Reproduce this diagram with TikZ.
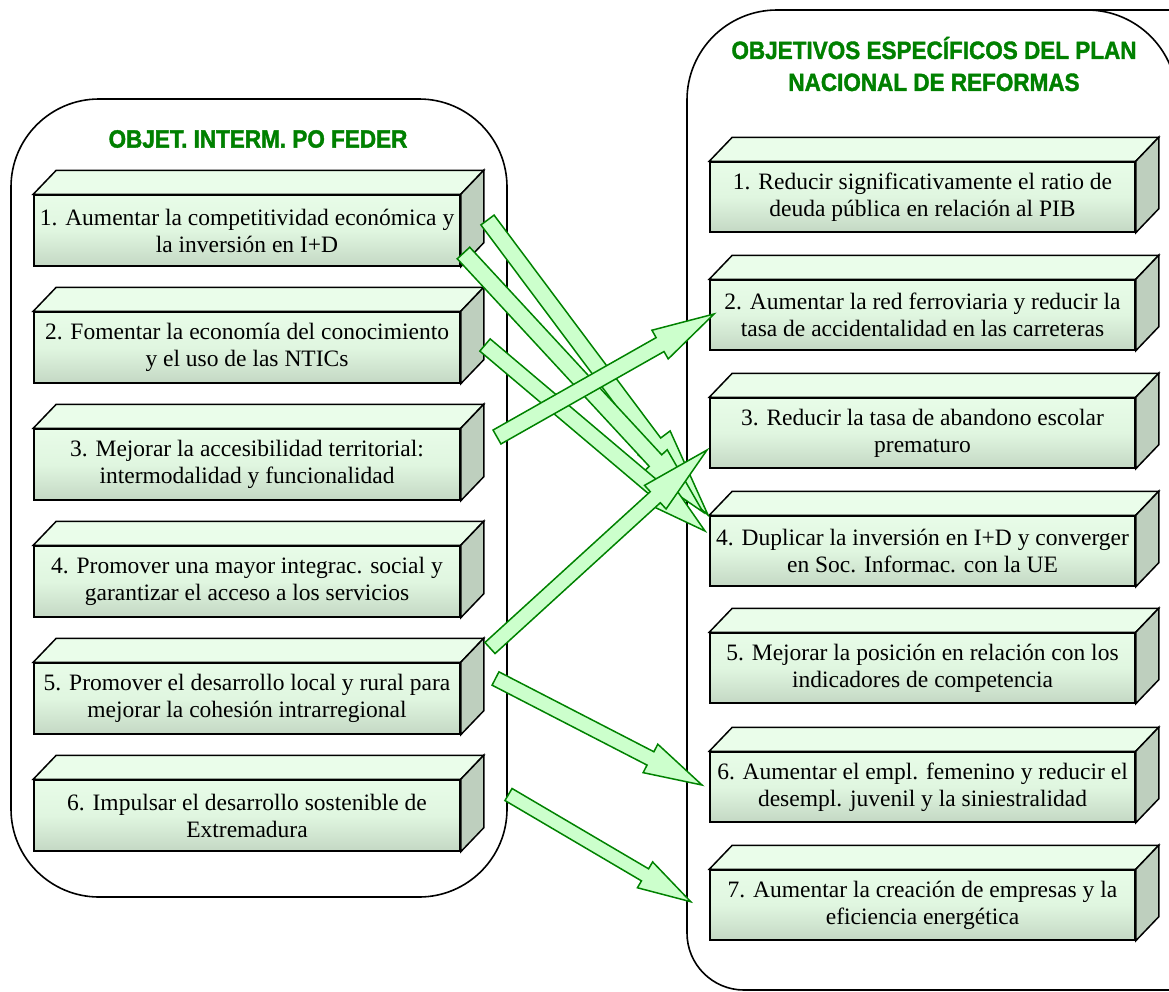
\documentclass[tikz,border=0pt]{standalone}
\usepackage{fontspec}
\usepackage{graphicx}
\setmainfont{Liberation Serif}
\newfontfamily\titlefont[BoldFeatures={FakeBold=1.6}]{Liberation Sans}
\usetikzlibrary{calc}
\definecolor{ttlgreen}{RGB}{0,128,0}
\definecolor{arrline}{RGB}{0,130,0}
\definecolor{arrfill}{RGB}{204,255,204}
\definecolor{facetop}{RGB}{234,253,234}
\definecolor{faceside}{RGB}{190,207,190}
\definecolor{fronttop}{RGB}{232,252,232}
\definecolor{frontmid}{RGB}{224,246,224}
\definecolor{frontbot}{RGB}{196,216,196}
\tikzset{
  container/.style={draw=black, line width=1.6pt},
  frontface/.style={draw=black, line width=1.5pt, top color=fronttop, bottom color=frontbot, middle color=frontmid, inner sep=0pt, align=center, font=\fontsize{23.5}{27}\selectfont},
  topface/.style={draw=black, line width=1.5pt, fill=facetop, line join=miter},
  sideface/.style={draw=black, line width=1.5pt, fill=faceside, line join=miter},
  blockarr/.style={draw=arrline, fill=arrfill, line width=1.5pt, line join=miter},
  titletext/.style={text=ttlgreen, font=\titlefont\bfseries\fontsize{25}{32}\selectfont, align=center, inner sep=0pt}
}
\newcommand\cuboid[6]{%
  \node[frontface, minimum width=#4pt, minimum height=#5pt] (#1) at (#2,#3) {#6};
  \filldraw[topface] (#1.north west) -- ++(23,-24) -- ($(#1.north east)+(23,-24)$) -- (#1.north east) -- cycle;
  \filldraw[sideface] (#1.north east) -- ++(23,-24) -- ($(#1.south east)+(23,-24)$) -- (#1.south east) -- cycle;
}
\newcommand\blockarrow[5]{%
  \coordinate (bab) at ($(#2)!#5pt!(#1)$);
  \filldraw[blockarr] ($(#1)!#3pt!90:(#2)$) -- ($(bab)!#3pt!90:(#2)$) -- ($(bab)!#4pt!90:(#2)$) -- (#2) -- ($(bab)!#4pt!-90:(#2)$) -- ($(bab)!#3pt!-90:(#2)$) -- ($(#1)!#3pt!-90:(#2)$) -- cycle;
}
\begin{document}
\begin{tikzpicture}[x=1pt, y=-1pt]
\useasboundingbox (0,0) rectangle (1169,991);
\fill[white] (0,0) rectangle (1169,991);
\clip (0,0) rectangle (1169,991);
% containers
\draw[container, rounded corners=88pt] (11,99) rectangle (507,897);
\draw[container] (1180,10) -- (777,10) arc[start angle=90, end angle=180, radius=90pt] -- (687,933) arc[start angle=180, end angle=270, radius=57pt] -- (1180,990);
\draw[container] (1087,10) arc[start angle=90, end angle=0, radius=90pt] -- (1177,990);
% titles
\node[titletext] (ltitle) at (258,139) {\scalebox{0.9}[1]{OBJET. INTERM. PO FEDER}};
\node[titletext] (rtitle) at (934,64) {\scalebox{0.9}[1]{OBJETIVOS ESPECÍFICOS DEL PLAN}\\\scalebox{0.9}[1]{NACIONAL DE REFORMAS}};
% left boxes
\cuboid{l1}{247}{230.5}{426}{71}{1. Aumentar la competitividad económica y\\la inversión en I+D}
\cuboid{l2}{247}{347.5}{426}{71}{2. Fomentar la economía del conocimiento\\y el uso de las NTICs}
\cuboid{l3}{247}{464.5}{426}{71}{3. Mejorar la accesibilidad territorial:\\intermodalidad y funcionalidad}
\cuboid{l4}{247}{581.5}{426}{71}{4. Promover una mayor integrac. social y\\garantizar el acceso a los servicios}
\cuboid{l5}{247}{698.5}{426}{71}{5. Promover el desarrollo local y rural para\\mejorar la cohesión intrarregional}
\cuboid{l6}{247}{815.5}{426}{71}{6. Impulsar el desarrollo sostenible de\\Extremadura}
% right boxes
\cuboid{r1}{922.5}{197}{425}{70}{1. Reducir significativamente el ratio de\\deuda pública en relación al PIB}
\cuboid{r2}{922.5}{315}{425}{70}{2. Aumentar la red ferroviaria y reducir la\\tasa de accidentalidad en las carreteras}
\cuboid{r3}{922.5}{433}{425}{70}{3. Reducir la tasa de abandono escolar\\prematuro}
\cuboid{r4}{922.5}{551}{425}{70}{4. Duplicar la inversión en I+D y converger\\en Soc. Informac. con la UE}
\cuboid{r5}{922.5}{668}{425}{70}{5. Mejorar la posición en relación con los\\indicadores de competencia}
\cuboid{r6}{922.5}{787}{425}{70}{6. Aumentar el empl. femenino y reducir el\\desempl. juvenil y la siniestralidad}
\cuboid{r7}{922.5}{905}{425}{70}{7. Aumentar la creación de empresas y la\\eficiencia energética}
% arrow ends
\coordinate (ta) at (487.5,220);  \coordinate (pa) at (708,515);
\coordinate (tb) at (463.5,253);  \coordinate (pb) at (703,512);
\coordinate (tc) at (485,345);    \coordinate (pc) at (705,531);
\coordinate (td) at (497,437);    \coordinate (pd) at (714,314);
\coordinate (te) at (490,648);    \coordinate (pe) at (707,450);
\coordinate (tf) at (495.5,678.5);\coordinate (pf) at (702,785);
\coordinate (tg) at (508.5,794.5);\coordinate (pg) at (690.7,901.7);
% arrows
\blockarrow{ta}{pa}{8.2}{20}{90}
\blockarrow{tb}{pb}{8.5}{16}{70}
\blockarrow{tc}{pc}{8}{16}{60}
\blockarrow{td}{pd}{8}{16.5}{62}
\blockarrow{te}{pe}{7.5}{16}{70}
\blockarrow{tf}{pf}{7.5}{16}{58}
\blockarrow{tg}{pg}{7}{15}{53}
\end{tikzpicture}
\end{document}
